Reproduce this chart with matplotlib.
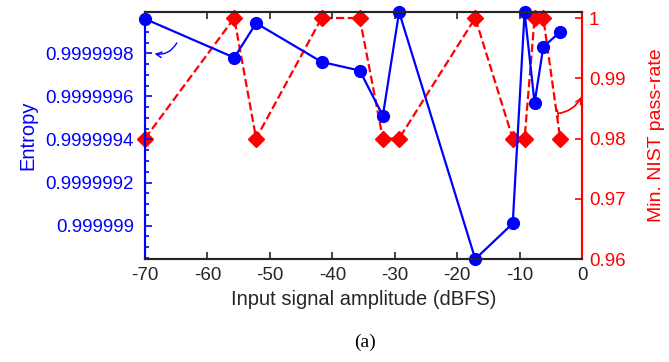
import matplotlib
matplotlib.use("Agg")
import matplotlib.pyplot as plt
from matplotlib.ticker import MultipleLocator

plt.rcParams['font.family'] = ['Liberation Sans', 'DejaVu Sans']
plt.rcParams['axes.unicode_minus'] = False

# input amplitude (dBFS)
amp = [-70, -55.7, -52.2, -41.7, -35.6, -31.9, -29.3, -17.1, -11.1, -9.2, -7.6, -6.2, -3.5]
entropy = [0.99999996, 0.99999978, 0.99999994, 0.99999976, 0.99999972, 0.99999951,
           0.999999992, 0.999998845, 0.99999901, 0.999999992, 0.99999957, 0.99999983,
           0.99999990]
nist = [0.98, 1.0, 0.98, 1.0, 1.0, 0.98, 0.98, 1.0, 0.98, 0.98, 1.0, 1.0, 0.98]

ent_ticks = [0.999999, 0.9999992, 0.9999994, 0.9999996, 0.9999998]
ent_labels = ["0.999999", "0.9999992", "0.9999994", "0.9999996", "0.9999998"]
nist_ticks = [0.96, 0.97, 0.98, 0.99, 1.0]
nist_labels = ["0.96", "0.97", "0.98", "0.99", "1"]
x_ticks = [-70, -60, -50, -40, -30, -20, -10, 0]

blue = (0, 0, 1)
red = (1, 0, 0)
dark = "#262626"

fig = plt.figure(figsize=(6.69, 3.62), dpi=100)
ax = fig.add_axes([0.2167, 0.2845, 0.6533, 0.6824])
ax2 = ax.twinx()
ax.set_zorder(ax2.get_zorder() + 1)
ax.patch.set_visible(False)

ax2.plot(amp, nist, '--', color=red, lw=1.6, marker='D', ms=8, clip_on=False)
ax.plot(amp, entropy, '-', color=blue, lw=1.6, marker='o', ms=8.5, clip_on=False)

ax.set_xlim(-70, 0)
ax.set_ylim(0.999998845, 0.999999992)
ax2.set_ylim(0.96, 1.001)

ax.set_xticks(x_ticks)
ax.set_xticklabels([str(t) for t in x_ticks])
ax.set_yticks(ent_ticks)
ax.set_yticklabels(ent_labels)
ax.yaxis.set_minor_locator(MultipleLocator(5e-8))
ax2.set_yticks(nist_ticks)
ax2.set_yticklabels(nist_labels)

ax.tick_params(axis='x', direction='in', top=True, colors=dark, labelsize=13.5, length=5, width=1.2, pad=6)
ax.tick_params(axis='y', which='both', direction='in', colors=blue, labelsize=13.5, width=1.2, pad=8)
ax.tick_params(axis='y', which='major', length=5)
ax.tick_params(axis='y', which='minor', length=3)
ax2.tick_params(axis='y', direction='in', colors=red, labelsize=13.5, length=5, width=1.2, pad=5)
ax2.tick_params(axis='x', top=False, bottom=False)

for a in (ax, ax2):
    a.spines['top'].set_color(dark)
    a.spines['bottom'].set_color(dark)
    a.spines['left'].set_color(blue)
    a.spines['right'].set_color(red)
    for s in a.spines.values():
        s.set_linewidth(1.5)

ax.set_xlabel("Input signal amplitude (dBFS)", fontsize=14.5, color=dark, labelpad=4)
ax.set_ylabel("Entropy", fontsize=14.5, color=blue, labelpad=6)
ax2.set_ylabel("Min. NIST pass-rate", fontsize=14, color=red, labelpad=16)

ax.annotate("", xy=(-68.9, 0.9999998), xytext=(-64.7, 0.99999986),
            arrowprops=dict(arrowstyle='->', color=blue, lw=1,
                            connectionstyle='arc3,rad=-0.4'))
ax2.annotate("", xy=(0.1, 0.9873), xytext=(-4.3, 0.9841), annotation_clip=False,
             arrowprops=dict(arrowstyle='|-|,widthA=0.25,widthB=0', color=red, lw=1,
                             connectionstyle='arc3,rad=0.3'))
ax2.annotate("", xy=(0.1, 0.9873), xytext=(-4.3, 0.9841), annotation_clip=False,
             arrowprops=dict(arrowstyle='->', color=red, lw=1,
                             connectionstyle='arc3,rad=0.3'))

fig.text(0.545, 0.055, "(a)", fontsize=14, family=['Liberation Serif', 'DejaVu Serif'],
         ha='center', va='center', color='black')

fig.savefig("out.png", dpi=100)
